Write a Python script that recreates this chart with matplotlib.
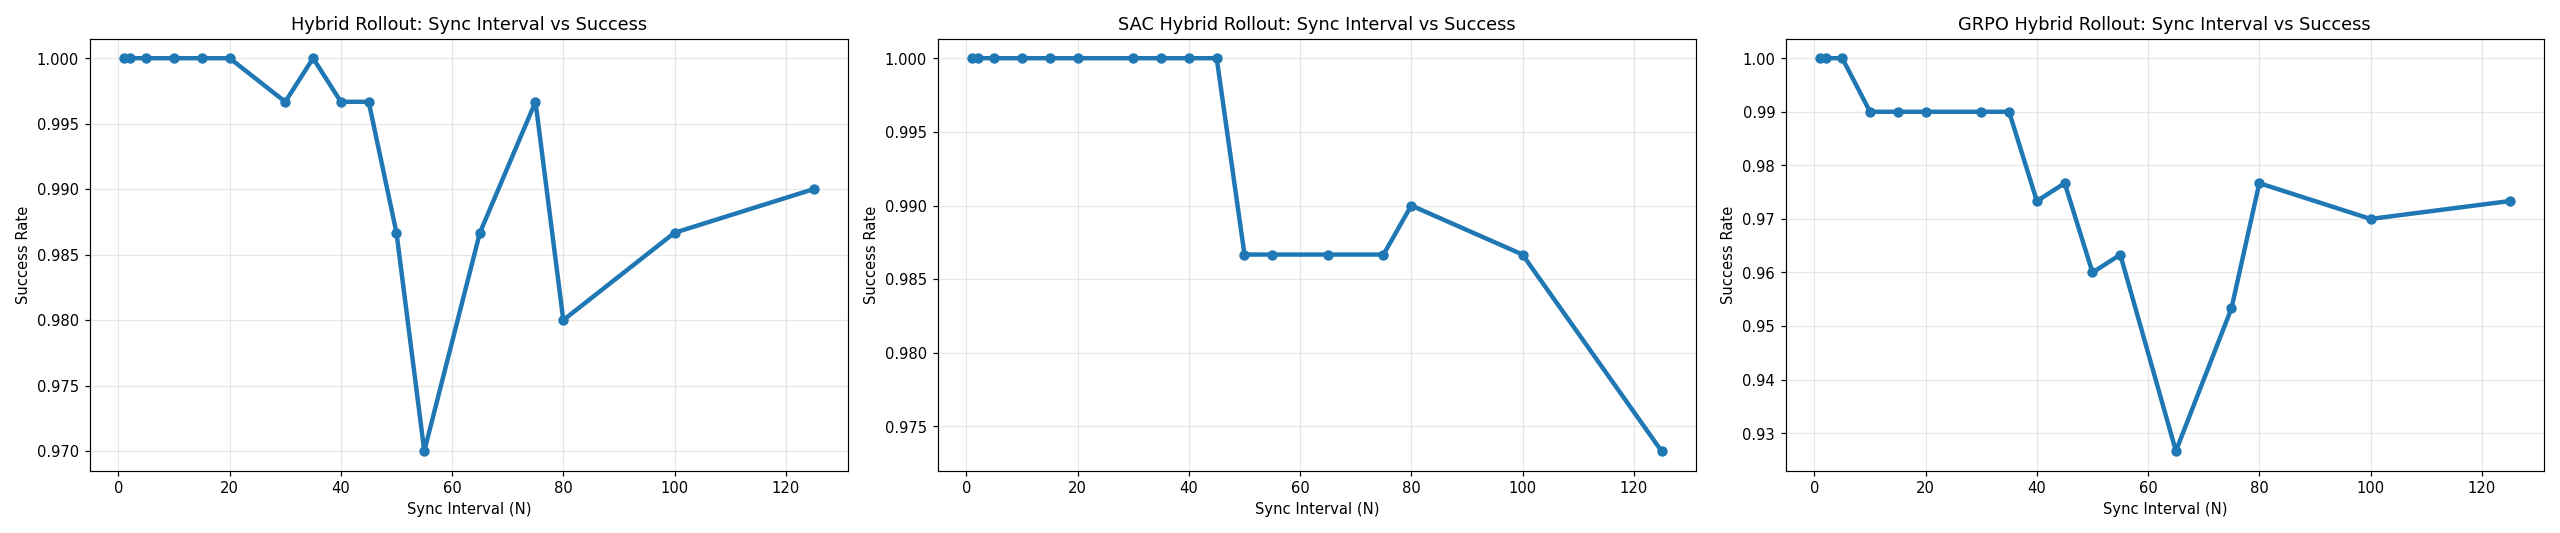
import matplotlib
matplotlib.use("Agg")
import matplotlib.pyplot as plt

# sync intervals shared by all three runs
sync_interval = [1, 2, 5, 10, 15, 20, 30, 35, 40, 45, 50, 55, 65, 75, 80, 100, 125]

hybrid_success = [1.0, 1.0, 1.0, 1.0, 1.0, 1.0, 0.99667, 1.0, 0.99667, 0.99667,
                  0.98667, 0.970, 0.98667, 0.99667, 0.980, 0.98667, 0.990]
sac_success = [1.0, 1.0, 1.0, 1.0, 1.0, 1.0, 1.0, 1.0, 1.0, 1.0,
               0.98667, 0.98667, 0.98667, 0.98667, 0.990, 0.98667, 0.97333]
grpo_success = [1.0, 1.0, 1.0, 0.990, 0.990, 0.990, 0.990, 0.990, 0.97333, 0.97667,
                0.960, 0.96333, 0.92667, 0.95333, 0.97667, 0.970, 0.97333]

titles = [
    "Hybrid Rollout: Sync Interval vs Success",
    "SAC Hybrid Rollout: Sync Interval vs Success",
    "GRPO Hybrid Rollout: Sync Interval vs Success",
]

fig, axes = plt.subplots(1, 3, figsize=(24, 5), dpi=2560 / 24)

for ax, ys, title in zip(axes, [hybrid_success, sac_success, grpo_success], titles):
    ax.plot(sync_interval, ys, marker="o", linewidth=3, markersize=6, color="#1f77b4")
    ax.set_title(title, fontsize=12)
    ax.set_xlabel("Sync Interval (N)")
    ax.set_ylabel("Success Rate")
    ax.grid(True, alpha=0.3)

fig.tight_layout()
fig.savefig("out.png")
